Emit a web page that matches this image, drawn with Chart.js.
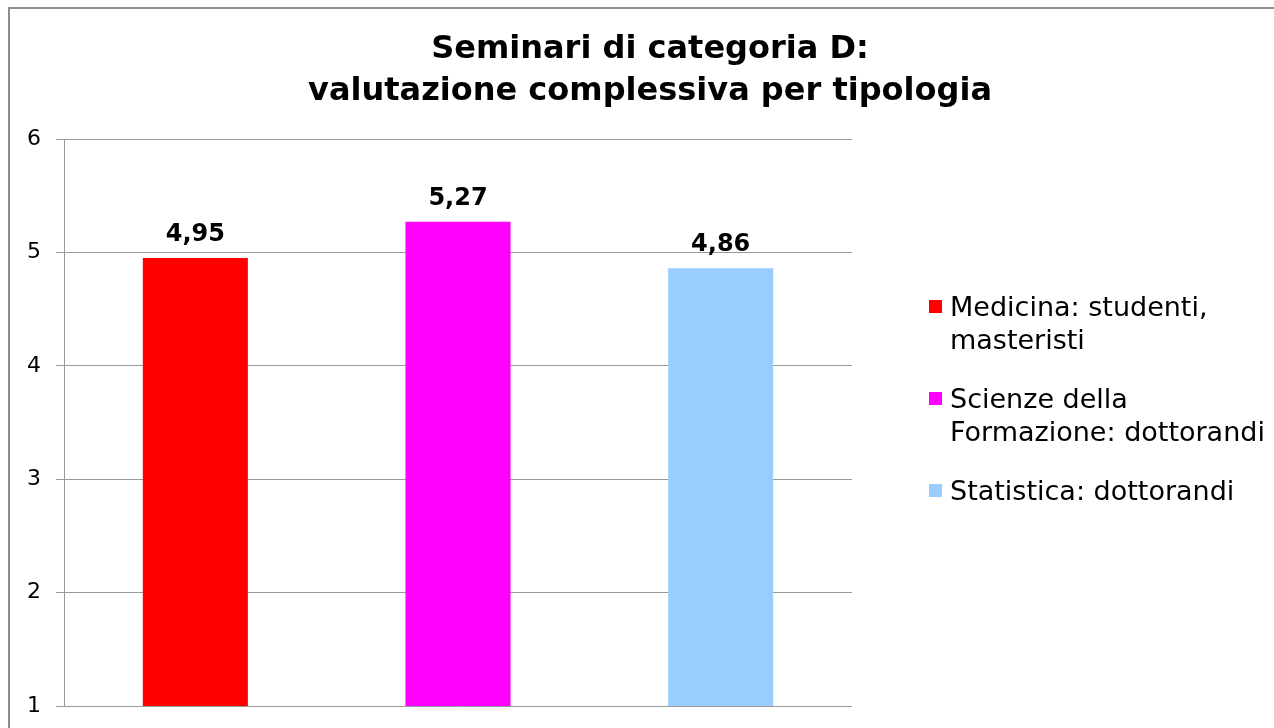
<!DOCTYPE html>
<html>
<head>
<meta charset="utf-8">
<script src="https://cdn.jsdelivr.net/npm/chart.js@4"></script>
<style>
  html, body { margin: 0; padding: 0; background: #fff; overflow: hidden; width: 1274px; height: 728px; }
  #frame { position: absolute; left: 8px; top: 7px; width: 1400px; height: 900px; border: 2px solid #8c8c8c; box-sizing: border-box; }
  #wrap { position: absolute; left: 0; top: 0; width: 1300px; height: 728px; }
</style>
</head>
<body>
<div id="frame"></div>
<div id="wrap"><canvas id="c" width="1300" height="728"></canvas></div>
<script>
const titleLines = ['Seminari di categoria D:', 'valutazione complessiva per tipologia'];
const categories = ['Medicina: studenti, masteristi', 'Scienze della Formazione: dottorandi', 'Statistica: dottorandi'];
const legendLines = [['Medicina: studenti,', 'masteristi'], ['Scienze della', 'Formazione: dottorandi'], ['Statistica: dottorandi']];
const values = [4.95, 5.27, 4.86];
const valueLabels = ['4,95', '5,27', '4,86'];
const colors = ['#FF0000', '#FF00FF', '#99CCFF'];
const yTicks = [1, 2, 3, 4, 5, 6];

const FONT = "'DejaVu Sans', Verdana, sans-serif";

const titlePlugin = {
  id: 'centeredTitle',
  afterDraw(chart) {
    const ctx = chart.ctx;
    ctx.save();
    ctx.font = 'bold 32px ' + FONT;
    ctx.fillStyle = '#000';
    ctx.textAlign = 'center';
    ctx.textBaseline = 'alphabetic';
    const cx = chart.width / 2;
    const baselines = [58, 100];
    titleLines.forEach((t, i) => ctx.fillText(t, cx, baselines[i]));
    ctx.restore();
  }
};

const valueLabelPlugin = {
  id: 'valueLabels',
  afterDatasetsDraw(chart) {
    const ctx = chart.ctx;
    const meta = chart.getDatasetMeta(0);
    ctx.save();
    ctx.font = 'bold 24px ' + FONT;
    ctx.fillStyle = '#000';
    ctx.textAlign = 'center';
    ctx.textBaseline = 'alphabetic';
    meta.data.forEach((bar, i) => {
      ctx.fillText(valueLabels[i], bar.x, bar.y - 17);
    });
    ctx.restore();
  }
};

const legendPlugin = {
  id: 'sideLegend',
  afterDraw(chart) {
    const ctx = chart.ctx;
    ctx.save();
    ctx.font = '27px ' + FONT;
    ctx.textBaseline = 'alphabetic';
    const x0 = chart.chartArea.right + 77;
    const yStart = 316;
    const entryGap = 92;
    const lineGap = 33;
    legendLines.forEach((lines, i) => {
      const y = yStart + i * entryGap;
      ctx.fillStyle = colors[i];
      ctx.fillRect(x0, y - 16, 13, 13);
      ctx.fillStyle = '#000';
      lines.forEach((t, j) => ctx.fillText(t, x0 + 21, y + j * lineGap));
    });
    ctx.restore();
  }
};

new Chart(document.getElementById('c'), {
  type: 'bar',
  data: {
    labels: categories,
    datasets: [{
      data: values,
      backgroundColor: colors,
      borderWidth: 0,
      categoryPercentage: 1.0,
      barPercentage: 0.4
    }]
  },
  options: {
    responsive: false,
    animation: false,
    devicePixelRatio: 1,
    layout: { padding: { left: 0, right: 448, top: 139, bottom: 22 } },
    plugins: {
      legend: { display: false },
      tooltip: { enabled: false },
      title: { display: false }
    },
    scales: {
      x: { display: false },
      y: {
        min: 1, max: 6,
        afterBuildTicks(scale) { scale.ticks = yTicks.map(v => ({ value: v })); },
        afterFit(scale) { scale.width = 64; scale.paddingTop = 0; scale.paddingBottom = 0; },
        ticks: { color: '#000', font: { family: FONT, size: 22 }, padding: 15, callback: v => String(v) },
        grid: { color: '#999', lineWidth: 1, tickLength: 8, drawTicks: true },
        border: { color: '#999', width: 1 }
      }
    }
  },
  plugins: [titlePlugin, valueLabelPlugin, legendPlugin]
});
</script>
</body>
</html>
